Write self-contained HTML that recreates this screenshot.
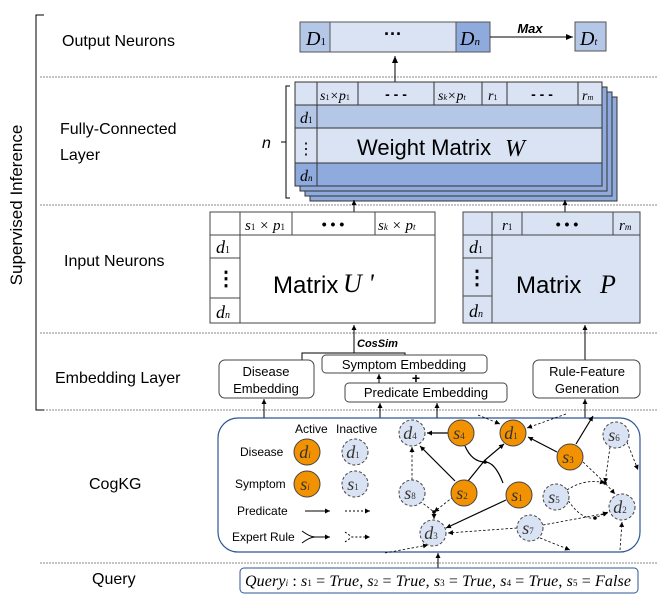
<!DOCTYPE html>
<html><head><meta charset="utf-8"><style>
body{margin:0;background:#fff}
svg{display:block}
text{font-family:"Liberation Sans",sans-serif}
.m,.m text{font-family:"Liberation Serif",serif;font-style:italic}
</style></head><body>
<svg width="657" height="610" viewBox="0 0 657 610" xmlns="http://www.w3.org/2000/svg">
<defs>
<marker id="a" markerWidth="8" markerHeight="8" refX="7" refY="4" orient="auto" markerUnits="userSpaceOnUse"><path d="M0,1 L7,4 L0,7z" fill="#000"/></marker>
<marker id="b" markerWidth="6" markerHeight="6" refX="5" refY="3" orient="auto" markerUnits="userSpaceOnUse"><path d="M0,0.5 L5,3 L0,5.5z" fill="#000"/></marker>
</defs>
<g stroke="#888" stroke-dasharray="2,1" stroke-width="1">
<line x1="40" y1="77" x2="657" y2="77"/><line x1="40" y1="205" x2="657" y2="205"/>
<line x1="40" y1="333" x2="657" y2="333"/><line x1="40" y1="410" x2="657" y2="410"/>
<line x1="40" y1="563" x2="657" y2="563"/>
</g>
<path d="M44,15 L36,15 L36,410 L44,410" fill="none" stroke="#000"/>
<text transform="translate(22,205) rotate(-90)" font-size="17" text-anchor="middle">Supervised Inference</text>
<g font-size="16">
<text x="62" y="46">Output Neurons</text>
<text x="60" y="134">Fully-Connected</text><text x="60" y="160">Layer</text>
<text x="64" y="266">Input Neurons</text>
<text x="55" y="383">Embedding Layer</text>
<text x="89" y="489">CogKG</text>
<text x="92" y="584">Query</text>
</g>
<rect x="300" y="22" width="190" height="30" fill="#dae3f3" stroke="#555"/>
<rect x="300" y="22" width="30" height="30" fill="#b4c7e7" stroke="#555"/>
<rect x="456" y="22" width="34" height="30" fill="#8faadc" stroke="#555"/>
<text class="m" x="306" y="45" font-size="20">D<tspan font-size="11" font-style="normal">1</tspan></text>
<text x="393" y="40" font-size="18" text-anchor="middle" font-weight="bold">···</text>
<text class="m" x="460" y="45" font-size="20">D<tspan font-size="11">n</tspan></text>
<line x1="490" y1="37" x2="573" y2="37" stroke="#000" marker-end="url(#a)"/>
<text x="530" y="33" font-size="13" font-weight="bold" font-style="italic" text-anchor="middle">Max</text>
<rect x="575" y="22" width="31" height="29" fill="#b4c7e7" stroke="#555"/>
<text class="m" x="580" y="45" font-size="20">D<tspan font-size="10">t</tspan></text>
<line x1="395" y1="82" x2="395" y2="56" stroke="#000" marker-end="url(#a)"/>
<g stroke="#333">
<rect x="310" y="97" width="307" height="104" fill="#8faadc"/>
<rect x="305" y="92" width="307" height="104" fill="#8faadc"/>
<rect x="300" y="87" width="307" height="104" fill="#8faadc"/>
<rect x="295" y="82" width="307" height="23" fill="#dae3f3"/>
<rect x="295" y="105" width="307" height="23" fill="#b4c7e7"/>
<rect x="295" y="128" width="307" height="35" fill="#dae3f3"/>
<rect x="295" y="163" width="307" height="23" fill="#8faadc"/>
<line x1="317" y1="82" x2="317" y2="186"/>
<line x1="358" y1="82" x2="358" y2="105"/><line x1="434" y1="82" x2="434" y2="105"/>
<line x1="482" y1="82" x2="482" y2="105"/><line x1="507" y1="82" x2="507" y2="105"/>
<line x1="578" y1="82" x2="578" y2="105"/>
</g>
<g class="m" font-size="14">
<text x="320" y="100">s<tspan font-size="8" font-style="normal">1</tspan>×p<tspan font-size="8" font-style="normal">1</tspan></text>
<text x="438" y="100">s<tspan font-size="8">k</tspan>×p<tspan font-size="8">t</tspan></text>
<text x="488" y="100">r<tspan font-size="8" font-style="normal">1</tspan></text>
<text x="582" y="100">r<tspan font-size="8">m</tspan></text>
<text x="300" y="123" font-size="16">d<tspan font-size="9" font-style="normal">1</tspan></text>
<text x="300" y="181" font-size="16">d<tspan font-size="9">n</tspan></text>
</g>
<text x="396" y="99" font-size="14" font-weight="bold" text-anchor="middle">- - -</text>
<text x="542" y="99" font-size="14" font-weight="bold" text-anchor="middle">- - -</text>
<text x="306" y="154" font-size="16" text-anchor="middle">⋮</text>
<text x="357" y="155" font-size="22">Weight Matrix</text>
<text class="m" x="505" y="156" font-size="24">W</text>
<path d="M290,86 L286,86 L286,198 L290,198 M286,142 L281,142" fill="none" stroke="#000"/>
<text x="262" y="148" font-size="16" font-style="italic">n</text>
<line x1="354" y1="212" x2="354" y2="200" stroke="#000" marker-end="url(#b)"/>
<line x1="565" y1="212" x2="565" y2="200" stroke="#000" marker-end="url(#b)"/>
<g stroke="#444" fill="none">
<rect x="210" y="212" width="225" height="111" fill="#fff"/>
<line x1="210" y1="235" x2="435" y2="235"/><line x1="240" y1="212" x2="240" y2="323"/>
<line x1="292" y1="212" x2="292" y2="235"/><line x1="375" y1="212" x2="375" y2="235"/>
<line x1="210" y1="258" x2="240" y2="258"/><line x1="210" y1="298" x2="240" y2="298"/>
</g>
<g class="m" font-size="15">
<text x="245" y="230">s<tspan font-size="9" font-style="normal">1</tspan> × p<tspan font-size="9" font-style="normal">1</tspan></text>
<text x="378" y="230">s<tspan font-size="9">k</tspan> × p<tspan font-size="9">t</tspan></text>
<text x="216" y="253" font-size="18">d<tspan font-size="10" font-style="normal">1</tspan></text>
<text x="216" y="318" font-size="18">d<tspan font-size="10">n</tspan></text>
</g>
<text x="333" y="229" font-size="14" font-weight="bold" text-anchor="middle">• • •</text>
<text x="226" y="285" font-size="20" font-weight="bold" text-anchor="middle">⋮</text>
<text x="273" y="293" font-size="24">Matrix</text>
<text class="m" x="343" y="292" font-size="26">U '</text>
<g stroke="#444" fill="none">
<rect x="463" y="212" width="177" height="111" fill="#dae3f3"/>
<line x1="463" y1="235" x2="640" y2="235"/><line x1="492" y1="212" x2="492" y2="323"/>
<line x1="522" y1="212" x2="522" y2="235"/><line x1="613" y1="212" x2="613" y2="235"/>
<line x1="463" y1="258" x2="492" y2="258"/><line x1="463" y1="296" x2="492" y2="296"/>
</g>
<g class="m" font-size="15">
<text x="502" y="230">r<tspan font-size="9" font-style="normal">1</tspan></text>
<text x="619" y="230">r<tspan font-size="9">m</tspan></text>
<text x="469" y="253" font-size="18">d<tspan font-size="10" font-style="normal">1</tspan></text>
<text x="469" y="317" font-size="18">d<tspan font-size="10">n</tspan></text>
</g>
<text x="567" y="229" font-size="14" font-weight="bold" text-anchor="middle">• • •</text>
<text x="477" y="284" font-size="20" font-weight="bold" text-anchor="middle">⋮</text>
<text x="516" y="293" font-size="24">Matrix</text>
<text class="m" x="600" y="293" font-size="26">P</text>
<line x1="354" y1="353" x2="354" y2="325" stroke="#000" marker-end="url(#b)"/>
<path d="M302,360 L302,353 L405,353 L405,358" fill="none" stroke="#000"/>
<text x="357" y="347" font-size="11" font-weight="bold" font-style="italic">CosSim</text>
<line x1="585" y1="360" x2="585" y2="325" stroke="#000" marker-end="url(#b)"/>
<g stroke="#444" fill="#fff">
<rect x="219" y="360" width="95" height="38" rx="6"/>
<rect x="322" y="355" width="165" height="18" rx="4"/>
<rect x="345" y="383" width="162" height="19" rx="4"/>
<rect x="533" y="360" width="107" height="38" rx="6"/>
</g>
<g font-size="13" text-anchor="middle">
<text x="266" y="376">Disease</text><text x="266" y="393">Embedding</text>
<text x="404" y="369">Symptom Embedding</text>
<text x="426" y="397">Predicate Embedding</text>
<text x="587" y="376">Rule-Feature</text><text x="587" y="393">Generation</text>
</g>
<text x="416" y="383" font-size="14" font-weight="bold" text-anchor="middle">+</text>
<g stroke="#000" marker-end="url(#b)">
<line x1="264" y1="418" x2="264" y2="399"/>
<line x1="380" y1="418" x2="380" y2="403"/>
<line x1="379" y1="383" x2="379" y2="374"/>
<line x1="437" y1="418" x2="437" y2="403"/>
<line x1="585" y1="418" x2="585" y2="399"/>
<line x1="438" y1="568" x2="438" y2="553"/>
</g>
<rect x="218" y="418" width="422" height="134" rx="20" fill="#fff" stroke="#2f5597" stroke-width="1.2"/>
<text x="295" y="433" font-size="12">Active</text><text x="336" y="433" font-size="12">Inactive</text>
<text x="240" y="456" font-size="12">Disease</text>
<text x="235" y="488" font-size="12">Symptom</text>
<text x="237" y="515" font-size="12">Predicate</text>
<text x="232" y="541" font-size="12">Expert Rule</text>
<line x1="305" y1="511" x2="330" y2="511" stroke="#000" marker-end="url(#b)"/>
<line x1="345" y1="511" x2="370" y2="511" stroke="#000" stroke-dasharray="2,2" marker-end="url(#b)"/>
<path d="M302,531 Q310,537 315,537 M302,543 Q310,537 315,537 L330,537" fill="none" stroke="#000" marker-end="url(#b)"/>
<path d="M345,532 L352,537 M345,542 L352,537 L370,537" fill="none" stroke="#000" stroke-dasharray="2,2" marker-end="url(#b)"/>
<g stroke="#000" fill="none" stroke-width="1.2" marker-end="url(#b)">
<line x1="448" y1="433" x2="427" y2="433"/>
<line x1="455" y1="481" x2="420" y2="446"/>
<path d="M468,481 L485,460 L504,444"/>
<line x1="557" y1="452" x2="528" y2="437"/>
<line x1="576" y1="444" x2="593" y2="416"/>
<line x1="506" y1="500" x2="446" y2="528"/>
</g>
<path d="M465,446 Q472,462 485,462 Q495,462 503,483" fill="none" stroke="#000" stroke-width="1.2"/>
<circle cx="485" cy="462" r="1.8"/>
<g stroke="#000" fill="none" stroke-width="0.8" stroke-dasharray="2.5,2" marker-end="url(#b)">
<line x1="412" y1="480" x2="412" y2="447"/>
<path d="M420,501 L434,512 L434,519"/>
<path d="M453,497 L434,512"/>
<line x1="517" y1="528" x2="448" y2="533"/>
<line x1="543" y1="525" x2="608" y2="513"/>
<path d="M540,538 L570,550"/>
<line x1="620" y1="550" x2="622" y2="522"/>
<path d="M583,462 L605,483 L615,494"/>
<path d="M610,447 L605,483"/>
<path d="M627,442 L638,470"/>
<path d="M566,497 Q580,520 595,518 L608,512"/>
<path d="M567,490 Q585,478 605,483"/>
<path d="M385,553 L428,545"/>
<path d="M478,415 L500,424"/>
<path d="M566,414 L527,428"/>
</g>
<circle cx="434" cy="512" r="1.8"/><circle cx="605" cy="483" r="1.8"/><circle cx="595" cy="518" r="1.8"/>
<g stroke="#444" stroke-width="1">
<circle cx="307" cy="452" r="13" fill="#f39200"/>
<circle cx="355" cy="452" r="13" fill="#dae3f3" stroke-dasharray="3,2"/>
<circle cx="307" cy="484" r="13" fill="#f39200"/>
<circle cx="355" cy="484" r="13" fill="#dae3f3" stroke-dasharray="3,2"/>
<circle cx="412" cy="433" r="13" fill="#dae3f3" stroke-dasharray="3,2"/>
<circle cx="461" cy="433" r="13" fill="#f39200"/>
<circle cx="513" cy="433" r="13" fill="#f39200"/>
<circle cx="570" cy="457" r="13" fill="#f39200"/>
<circle cx="616" cy="435" r="13" fill="#dae3f3" stroke-dasharray="3,2"/>
<circle cx="412" cy="493" r="13" fill="#dae3f3" stroke-dasharray="3,2"/>
<circle cx="464" cy="493" r="13" fill="#f39200"/>
<circle cx="519" cy="495" r="13" fill="#f39200"/>
<circle cx="556" cy="497" r="13" fill="#dae3f3" stroke-dasharray="3,2"/>
<circle cx="622" cy="507" r="13" fill="#dae3f3" stroke-dasharray="3,2"/>
<circle cx="433" cy="533" r="13" fill="#dae3f3" stroke-dasharray="3,2"/>
<circle cx="530" cy="528" r="13" fill="#dae3f3" stroke-dasharray="3,2"/>
</g>
<g class="m" font-size="18" text-anchor="middle" fill="#333">
<text x="305" y="458">d<tspan font-size="9">i</tspan></text>
<text x="353" y="458">d<tspan font-size="9" font-style="normal">1</tspan></text>
<text x="305" y="490">s<tspan font-size="9">i</tspan></text>
<text x="353" y="490">s<tspan font-size="9" font-style="normal">1</tspan></text>
<text x="410" y="439">d<tspan font-size="9" font-style="normal">4</tspan></text>
<text x="459" y="439">s<tspan font-size="9" font-style="normal">4</tspan></text>
<text x="511" y="439">d<tspan font-size="9" font-style="normal">1</tspan></text>
<text x="568" y="463">s<tspan font-size="9" font-style="normal">3</tspan></text>
<text x="614" y="441">s<tspan font-size="9" font-style="normal">6</tspan></text>
<text x="410" y="499">s<tspan font-size="9" font-style="normal">8</tspan></text>
<text x="462" y="499">s<tspan font-size="9" font-style="normal">2</tspan></text>
<text x="517" y="501">s<tspan font-size="9" font-style="normal">1</tspan></text>
<text x="554" y="503">s<tspan font-size="9" font-style="normal">5</tspan></text>
<text x="620" y="513">d<tspan font-size="9" font-style="normal">2</tspan></text>
<text x="431" y="539">d<tspan font-size="9" font-style="normal">3</tspan></text>
<text x="528" y="534">s<tspan font-size="9" font-style="normal">7</tspan></text>
</g>
<rect x="240" y="568" width="398" height="25" rx="4" fill="#fff" stroke="#2f5597"/>
<text x="245" y="586" font-size="16" textLength="386" lengthAdjust="spacing" style="font-family:'Liberation Serif',serif"><tspan font-style="italic">Query<tspan font-size="9">i</tspan></tspan> : <tspan font-style="italic">s</tspan><tspan font-size="9">1</tspan> = <tspan font-style="italic">True</tspan>, <tspan font-style="italic">s</tspan><tspan font-size="9">2</tspan> = <tspan font-style="italic">True</tspan>, <tspan font-style="italic">s</tspan><tspan font-size="9">3</tspan> = <tspan font-style="italic">True</tspan>, <tspan font-style="italic">s</tspan><tspan font-size="9">4</tspan> = <tspan font-style="italic">True</tspan>, <tspan font-style="italic">s</tspan><tspan font-size="9">5</tspan> = <tspan font-style="italic">False</tspan></text>
</svg>
</body></html>
